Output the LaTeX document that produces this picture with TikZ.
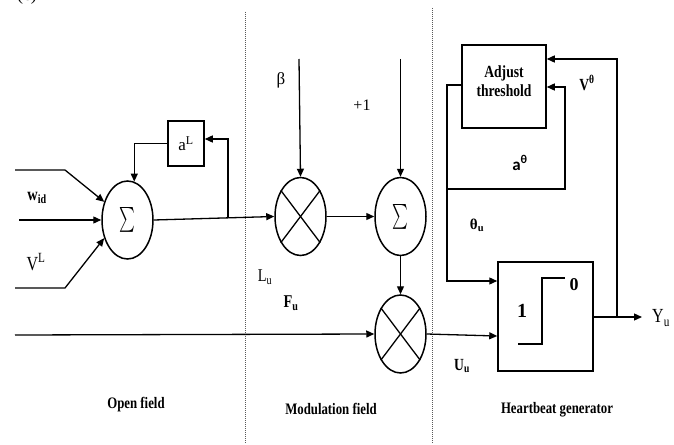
\documentclass[tikz,border=0pt]{standalone}
\usepackage{exscale}
\usepackage{fontspec}
\setmainfont{Liberation Serif}
\newfontfamily\carlito{Carlito}
\usetikzlibrary{arrows.meta,shapes.geometric,calc}
\newcommand\condtxt[1]{\scalebox{0.8}[1.0]{#1}}
\begin{document}
\begin{tikzpicture}[x=1pt,y=-1pt,
 line/.style={line width=1.3pt},
 arr/.style={line width=1.3pt,-{Triangle[length=8pt,width=7pt]}},
 oval/.style={ellipse,draw,line width=1.5pt,minimum width=51pt,minimum height=78pt,inner sep=0pt},
 blk/.style={rectangle,draw,line width=1.5pt,inner sep=0pt},
 sep/.style={gray!70!black,line width=1pt,dash pattern=on 1pt off 1pt},
 lbl/.style={inner sep=0pt,font=\fontsize{16}{18}\selectfont},
 blbl/.style={inner sep=0pt,font=\fontsize{16}{18}\selectfont\bfseries},
 sect/.style={inner sep=0pt,font=\fontsize{16}{18}\selectfont\bfseries},
 sigma/.style={font=\fontsize{27}{27}\selectfont}]
\useasboundingbox (0,0) rectangle (674,444);
\newcommand\sig{\scalebox{0.6}[1.0]{$\sum$}}
% caption (cut off, as in the reference)
\node[anchor=base,inner sep=0pt,font=\fontsize{18}{18}\selectfont] (cap) at (27,1) {(c)};
% separators
\coordinate (d1t) at (245,12); \coordinate (d1b) at (245,444);
\coordinate (d2t) at (432,8); \coordinate (d2b) at (432,444);
\draw[sep] (d1t) -- (d1b);
\draw[sep] (d2t) -- (d2b);
% nodes
\node[oval,sigma] (s1) at (127.5,220) {\sig};
\node[blk,minimum width=36pt,minimum height=45pt,font=\fontsize{17}{18}\selectfont] (aL) at (186,143.5) {a\textsuperscript{L}};
\node[oval] (m1) at (300.5,216.5) {};
\node[oval,sigma] (s2) at (400.5,216.5) {\sig};
\node[oval] (m2) at (400.5,334) {};
\foreach \m in {m1,m2}{
  \draw[line width=1.3pt] (\m.53) -- (\m.233);
  \draw[line width=1.3pt] (\m.127) -- (\m.307);
}
\node[blk,minimum width=84pt,minimum height=83pt] (adj) at (504,86.5) {};
\node[blbl,align=center,font=\fontsize{17}{19}\selectfont\bfseries] (adjt) at (504,81) {\condtxt{Adjust}\\\condtxt{threshold}};
\node[blk,minimum width=95pt,minimum height=109pt] (stp) at (545.5,316.5) {};
\coordinate (st1) at (518,344); \coordinate (st2) at (542,344);
\coordinate (st3) at (542,278); \coordinate (st4) at (565,278);
\draw[line width=1.5pt] (st1) -- (st2) -- (st3) -- (st4);
\node[blbl,font=\fontsize{20}{20}\selectfont\bfseries] (one) at (522,311) {1};
\node[blbl,font=\fontsize{18}{18}\selectfont\bfseries] (zero) at (574,285) {0};
% open field inputs
\coordinate (i1a) at (15,170); \coordinate (i1b) at (65,170);
\coordinate (i2a) at (19,220);
\coordinate (i3a) at (15,288); \coordinate (i3b) at (65,288);
\draw[arr] (i1a) -- (i1b) -- (s1.142);
\draw[arr] (i2a) -- (s1.west);
\draw[arr] (i3a) -- (i3b) -- (s1.218);
\draw[arr] (s1.east) -- (m1.west);
\coordinate (fb) at (228,217.8);
\draw[arr] (fb) |- ([yshift=4.5pt]aL.east);
\draw[arr] (aL.west) -| (s1.80);
% modulation field
\coordinate (bt) at (299,59);
\coordinate (pt) at (400.5,59);
\draw[arr] (bt) -- (m1.north);
\draw[arr] (pt) -- (s2.north);
\draw[arr] (m1.east) -- (s2.west);
\draw[arr] (s2.south) -- (m2.north);
\coordinate (bl) at (15,335);
\draw[arr] (bl) -- (m2.west);
% heartbeat generator
\draw[arr] (m2.east) -- ([yshift=-19.5pt]stp.west);
\coordinate (lp1) at (447,85); \coordinate (lp2) at (447,189);
\coordinate (lp3) at (565,189); \coordinate (lp4) at (565,87);
\coordinate (lp5) at (447,281);
\draw[line] ([yshift=1.5pt]adj.west) -- (lp1) -- (lp2);
\draw[arr] (lp2) -- (lp3) -- (lp4) -- ([yshift=-0.5pt]adj.east);
\draw[arr] (lp2) -- (lp5) -- ([yshift=35.5pt]stp.west);
\coordinate (yo) at (642,317);
\coordinate (j2) at (617,317);
\draw[arr] (stp.east |- yo) -- (yo);
\draw[arr] (j2) |- ([yshift=27.5pt]adj.east);
% labels
\node[blbl,font=\fontsize{18}{18}\selectfont\bfseries] (wid) at (37,198) {\condtxt{w\textsubscript{id}}};
\node[lbl,font=\fontsize{20}{20}\selectfont] (vl) at (36,262) {\condtxt{V\textsuperscript{L}}};
\node[lbl,font=\fontsize{17}{18}\selectfont] (beta) at (281,80) {β};
\node[lbl] (plus) at (362,105) {+1};
\node[lbl,font=\fontsize{18}{18}\selectfont] (lu) at (265,277) {\condtxt{L\textsubscript{u}}};
\node[blbl,font=\fontsize{18}{18}\selectfont\bfseries] (fu) at (291,303) {\condtxt{F\textsubscript{u}}};
\node[blbl,font=\fontsize{15}{16}\selectfont\bfseries] (thu) at (477,225) {θ\textsubscript{u}};
\node[blbl,font=\fontsize{17}{18}\selectfont\bfseries] (uu) at (462,366) {\condtxt{U\textsubscript{u}}};
\node[lbl,font=\fontsize{20}{20}\selectfont] (yu) at (661,318) {\condtxt{Y\textsubscript{u}}};
\node[blbl,font=\fontsize{17}{18}\selectfont\bfseries] (vth) at (587,83) {\condtxt{V\textsuperscript{θ}}};
\node[inner sep=0pt,font=\fontsize{17}{18}\selectfont\carlito\bfseries] (ath) at (520,163) {a\textsuperscript{θ}};
\node[sect] (of) at (136,405) {\condtxt{Open field}};
\node[sect] (mf) at (331,409) {\condtxt{Modulation field}};
\node[sect] (hg) at (557,410) {\condtxt{Heartbeat generator}};
\end{tikzpicture}
\end{document}
